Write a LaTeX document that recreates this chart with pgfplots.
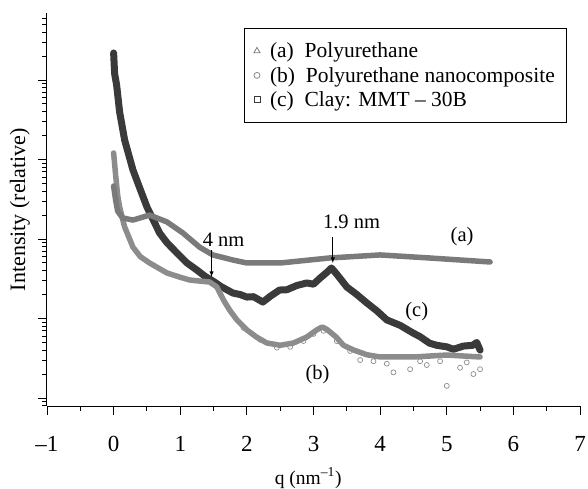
\documentclass[border=0pt]{standalone}
\usepackage{fontspec}
\setmainfont{Liberation Serif}
\usepackage{pgfplots}
\pgfplotsset{compat=1.18}
\definecolor{cA}{HTML}{7A7A7A}
\definecolor{cB}{HTML}{8C8C8C}
\definecolor{cC}{HTML}{3A3A3A}
\newcommand{\tickf}{\fontsize{23}{27}\selectfont}
\newcommand{\legf}{\fontsize{21.5}{25}\selectfont}
\newcommand{\annf}{\fontsize{20.5}{24}\selectfont}
\begin{document}
\begin{tikzpicture}
\begin{axis}[
  scale only axis, width=533pt, height=393pt,
  xmin=-1, xmax=7, ymode=log, ymin=0.793, ymax=69600,
  axis lines=left, axis line style={-, line width=1pt},
  every tick/.style={black, line width=0.9pt},
  tick align=outside, major tick length=9pt, minor tick length=5pt,
  xtick={-1,0,1,2,3,4,5,6,7},
  minor xtick={-0.5,0.5,1.5,2.5,3.5,4.5,5.5,6.5},
  xticklabels={\textendash1,0,1,2,3,4,5,6,7},
  ytick={1,10,100,1000,10000},
  minor ytick={0.8,0.9,2,3,4,5,6,7,8,9,20,30,40,50,60,70,80,90,200,300,400,500,600,700,800,900,2000,3000,4000,5000,6000,7000,8000,9000,20000,30000,40000,50000,60000},
  yticklabels={},
  tick label style={font=\tickf},
  xticklabel style={yshift=-18pt},
  xlabel={q (nm\textsuperscript{\textendash1})},
  ylabel={Intensity (relative)},
  xlabel style={font=\fontsize{19.5}{23}\selectfont, at={(axis description cs:0.49,-0.183)}, anchor=center},
  ylabel style={font=\fontsize{22}{26}\selectfont, at={(axis description cs:-0.051,0.5)}, anchor=center},
  legend style={at={(axis description cs:0.976,0.961)}, anchor=north east,
    draw=black, line width=0.8pt, font=\legf, inner xsep=10pt, inner ysep=12pt,
    row sep=4pt, column sep=8pt},
  legend cell align=left,
  clip=false,
]
\coordinate (O) at (axis description cs:0,0);
\addlegendimage{only marks, mark=triangle, mark size=3.5pt, color=cA, mark options={line width=0.8pt}}
\addlegendentry{(a)\ \ Polyurethane}
\addlegendimage{only marks, mark=o, mark size=3pt, color=cB, mark options={line width=0.8pt}}
\addlegendentry{(b)\ \ Polyurethane nanocomposite}
\addlegendimage{only marks, mark=square, mark size=3pt, color=cC, mark options={line width=0.9pt}}
\addlegendentry{(c)\ \ Clay: MMT \textendash\ 30B}

% (c) clay
\addplot[forget plot, color=cC, line width=7pt, line join=round, line cap=round] coordinates {
(0,21870) (0.015,12000) (0.045,8650) (0.09,3960) (0.165,1760) (0.29,738)
(0.4,420) (0.5,253) (0.6,170) (0.69,119) (0.8,90) (0.95,66.7) (1.1,50)
(1.25,40.7) (1.37,34) (1.49,29.6) (1.62,25) (1.79,20.9) (1.9,20) (2.0,18.6)
(2.1,18.8) (2.24,16.1) (2.35,19) (2.49,22.8) (2.6,23) (2.75,26) (2.9,28.0)
(3.0,27) (3.1,32.3) (3.2,38) (3.27,43.2) (3.35,36) (3.5,24.9) (3.65,20)
(3.8,15.7) (3.95,12.5) (4.1,9.6) (4.3,8.2) (4.49,6.6) (4.6,5.9) (4.74,4.9)
(4.85,4.6) (5.0,4.4) (5.1,4.1) (5.25,4.5) (5.39,4.6) (5.45,5.0) (5.5,4.0)
};
% (b) nanocomposite
\addplot[forget plot, color=cB, line width=5.5pt, line join=round, line cap=round] coordinates {
(0,1208) (0.03,638) (0.06,357) (0.09,253) (0.165,142) (0.29,79) (0.4,60)
(0.54,49.9) (0.8,37.4) (1.0,33) (1.14,30.5) (1.3,29.5) (1.44,28.8) (1.55,24.9)
(1.65,17) (1.74,12.8) (1.85,9.6) (2.0,7.17) (2.15,5.8) (2.3,4.92) (2.5,4.6)
(2.7,4.92) (2.9,5.85) (3.05,7.2) (3.13,7.82) (3.2,7.3) (3.34,5.85) (3.45,4.6)
(3.6,4.02) (3.8,3.5) (4.0,3.28) (4.5,3.28) (5.0,3.47) (5.5,3.28)
};
\addplot[forget plot, only marks, mark=o, mark size=2.5pt, color=cB, mark options={line width=0.7pt}] coordinates {
(1.95,7.6) (2.2,5.4) (2.45,4.3) (2.65,4.4) (2.85,5.2) (3.0,6.4) (3.15,7.0)
(3.35,5.2) (3.55,3.9) (3.7,3.0) (3.9,2.9) (4.2,2.1) (4.45,2.3) (4.7,2.6)
(5.0,1.42) (5.2,2.4) (5.4,2.0) (5.5,2.3) (5.3,2.8) (4.9,2.9) (4.1,2.7) (4.6,2.9)
};
% (a) polyurethane
\addplot[forget plot, color=cA, line width=5.5pt, line join=round, line cap=round] coordinates {
(0.0,464) (0.03,310) (0.06,225) (0.135,184) (0.29,173) (0.54,200) (0.8,164)
(1.04,119) (1.29,79) (1.49,63) (1.79,54.4) (2.0,49.9) (2.5,49.9) (3.24,57.7)
(4.0,63) (4.74,57.7) (5.65,51.4)
};

\node[font=\annf] at (axis cs:1.65,97) {4 nm};
\draw[-latex, line width=0.9pt] (axis cs:1.47,72.7) -- (axis cs:1.47,33.3);
\node[font=\annf] at (axis cs:3.57,164) {1.9 nm};
\draw[-latex, line width=0.9pt] (axis cs:3.29,106) -- (axis cs:3.29,49.9);
\node[font=\annf] at (axis cs:5.23,106) {(a)};
\node[font=\annf] at (axis cs:4.55,12.1) {(c)};
\node[font=\annf] at (axis cs:3.06,1.95) {(b)};
\end{axis}
\pgfresetboundingbox
\path (O) ++(-47pt,-82pt) rectangle ++(588pt,488pt);
\end{tikzpicture}
\end{document}
